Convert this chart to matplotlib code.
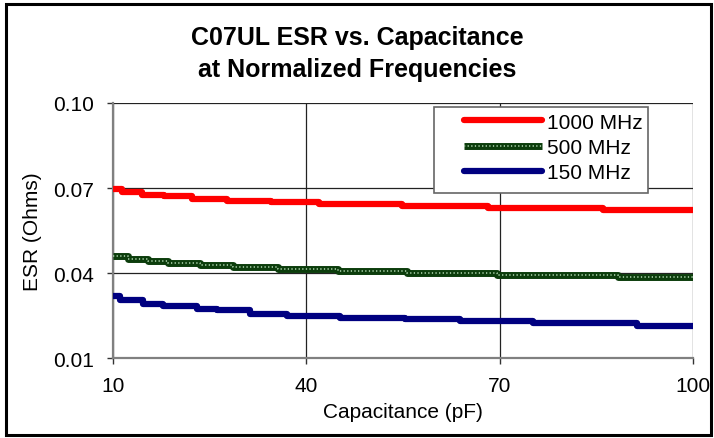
#!/usr/bin/env python3
import matplotlib
matplotlib.use('Agg')
import matplotlib.pyplot as plt
from matplotlib.patches import Rectangle
from matplotlib.legend_handler import HandlerTuple

# capacitance (pF) where each ESR level starts, and the ESR level (Ohms)
cap_1000 = [10, 11.4, 14.5, 17.9, 22.2, 27.7, 34.5, 42.0, 54.8, 68.2, 86.0, 100]
esr_1000 = [0.0696, 0.0686, 0.0677, 0.0671, 0.0662, 0.0655, 0.0650, 0.0643,
            0.0638, 0.0629, 0.0622, 0.0622]

cap_500 = [10, 12.3, 15.4, 18.5, 23.5, 28.6, 35.6, 44.9, 55.6, 69.6, 88.4, 100]
esr_500 = [0.0459, 0.0450, 0.0443, 0.0436, 0.0429, 0.0422, 0.0415, 0.0408,
           0.0401, 0.0394, 0.0387, 0.0387]

cap_150 = [10, 11.1, 14.7, 17.8, 23.0, 26.1, 31.3, 37.0, 45.2, 55.3, 63.8, 75.2, 91.3, 100]
esr_150 = [0.0318, 0.0303, 0.0292, 0.0283, 0.0274, 0.0268, 0.0256, 0.0250,
           0.0241, 0.0236, 0.0230, 0.0222, 0.0214, 0.0214]

x_ticks = [10, 40, 70, 100]
y_ticks = [0.01, 0.04, 0.07, 0.10]
series_names = ['1000 MHz', '500 MHz', '150 MHz']

plt.rcParams['font.family'] = ['Liberation Sans', 'DejaVu Sans']

fig = plt.figure(figsize=(7.14, 4.39), dpi=100)
ax = fig.add_axes([0.1583, 0.1822, 0.8123, 0.5809])

# outer frame round the whole chart
fig.patches.append(Rectangle((0.008, 0.006), 0.988, 0.983, transform=fig.transFigure,
                             fill=False, edgecolor='black', linewidth=2.2))

red, = ax.plot(cap_1000, esr_1000, drawstyle='steps-post', color='#ff0000',
               linewidth=4.5, solid_capstyle='round', zorder=3)
green, = ax.plot(cap_500, esr_500, drawstyle='steps-post', color='#0c3d0c',
                 linewidth=5, solid_capstyle='butt', zorder=3)
green_dots, = ax.plot(cap_500, esr_500, drawstyle='steps-post', color='#9cc49c',
                      linewidth=1.3, linestyle=(0, (0.7, 1.3)), zorder=4)
blue, = ax.plot(cap_150, esr_150, drawstyle='steps-post', color='#000080',
                linewidth=4.5, solid_capstyle='round', zorder=3)

ax.set_xlim(10, 100)
ax.set_ylim(0.01, 0.10)
ax.set_xticks(x_ticks)
ax.set_xticklabels([str(t) for t in x_ticks])
ax.set_yticks(y_ticks)
ax.set_yticklabels(['%.2f' % t for t in y_ticks])
ax.tick_params(direction='out', length=4, width=1, color='#333333', labelsize=15)
ax.tick_params(axis='x', pad=9)
ax.tick_params(axis='y', pad=10)

ax.grid(True, color='#222222', linewidth=0.9)
ax.set_axisbelow(True)
for side in ['top', 'right']:
    ax.spines[side].set_visible(False)
for side in ['left', 'bottom']:
    ax.spines[side].set_color('#808080')
    ax.spines[side].set_linewidth(1.6)

ax.set_xlabel('Capacitance (pF)', fontsize=15, labelpad=5)
ax.set_ylabel('ESR (Ohms)', fontsize=15, labelpad=8)

fig.text(0.5, 0.913, 'C07UL ESR vs. Capacitance', ha='center', va='center',
         fontsize=18, fontweight='bold')
fig.text(0.5, 0.841, 'at Normalized Frequencies', ha='center', va='center',
         fontsize=18, fontweight='bold')

# legend box drawn by hand so the left padding matches
ax.add_patch(Rectangle((0.5534, 0.647), 0.369, 0.337, transform=ax.transAxes,
                       facecolor='white', edgecolor='#666666', linewidth=1.2,
                       zorder=5, clip_on=False))
leg = ax.legend([red, (green, green_dots), blue], series_names,
                handler_map={tuple: HandlerTuple(ndivide=1)},
                loc='upper left', bbox_to_anchor=(0.606, 0.962), borderaxespad=0,
                fontsize=15, handlelength=3.7, handletextpad=0.25, labelspacing=0.3,
                borderpad=0, frameon=False)
leg.set_zorder(6)

fig.savefig('out.png', dpi=100, facecolor='white')
